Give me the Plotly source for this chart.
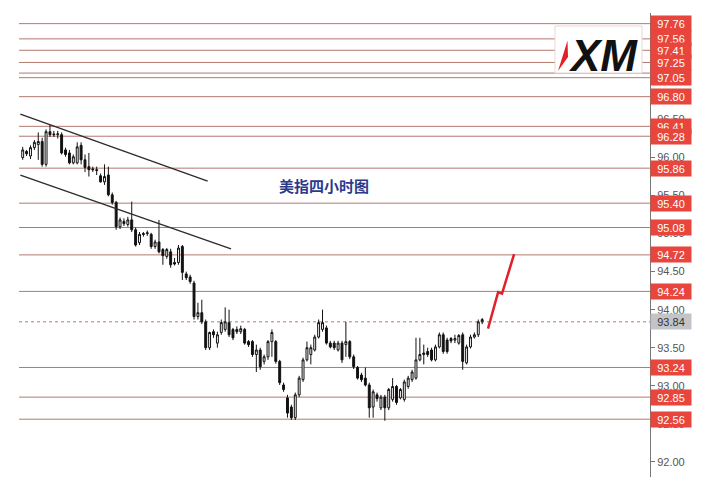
import plotly.graph_objects as go

# ---- candle data (USD index, 4h) ----
opens = [96.00,96.08,96.02,96.13,96.17,96.21,95.91,96.34,96.31,96.30,
         96.30,96.10,96.06,95.93,95.93,96.16,95.97,95.88,95.85,95.84,
         95.76,95.68,95.77,95.51,95.41,95.09,95.16,95.12,95.18,95.05,
         94.88,95.00,95.00,94.99,94.83,94.89,94.79,94.70,94.76,94.62,
         94.62,94.83,94.47,94.43,94.35,93.91,93.96,93.84,93.50,93.71,
         93.56,93.70,93.74,93.83,93.74,93.74,93.71,93.74,93.58,93.58,
         93.41,93.47,93.32,93.38,93.58,93.58,93.32,93.01,92.84,92.72,
         92.58,92.88,93.08,93.34,93.41,93.47,93.64,93.74,93.76,93.56,
         93.56,93.47,93.56,93.54,93.58,93.38,93.24,93.14,93.10,93.01,
         92.72,92.88,92.71,92.85,92.71,92.82,92.99,92.84,92.82,92.99,
         93.08,93.10,93.34,93.41,93.45,93.47,93.34,93.51,93.67,93.60,
         93.62,93.60,93.56,93.67,93.30,93.51,93.64,93.67,93.84]
highs = [96.14,96.10,96.16,96.23,96.33,96.26,96.37,96.43,96.35,96.35,
         96.33,96.13,96.10,96.04,96.20,96.20,96.04,96.06,95.88,95.88,
         95.79,95.91,95.88,95.54,95.43,95.21,95.20,95.22,95.42,95.08,
         95.02,95.02,95.04,95.01,94.92,95.18,94.81,94.81,94.80,94.68,
         94.85,94.85,94.50,94.46,94.38,94.09,94.13,93.87,93.71,93.74,
         93.71,93.87,94.03,94.00,93.76,93.78,93.79,93.76,93.60,93.60,
         93.54,93.50,93.41,93.60,93.74,93.60,93.34,93.04,92.88,92.75,
         92.91,93.13,93.37,93.58,93.54,93.67,93.87,94.00,93.79,93.59,
         93.59,93.59,93.59,93.84,93.60,93.41,93.26,93.17,93.24,93.04,
         92.95,92.91,92.88,92.88,92.97,93.10,93.01,92.97,93.08,93.13,
         93.21,93.63,93.63,93.54,93.50,93.50,93.54,93.70,93.70,93.63,
         93.64,93.67,93.68,93.70,93.54,93.67,93.70,93.87,93.89]
lows = [95.97,96.02,95.98,96.10,95.97,95.88,95.88,96.27,96.27,96.25,
        96.04,96.01,95.91,95.91,95.91,95.91,95.81,95.75,95.81,95.77,
        95.67,95.64,95.49,95.38,95.05,95.06,95.10,95.09,95.02,94.83,
        94.85,94.96,94.97,94.80,94.80,94.74,94.59,94.67,94.55,94.58,
        94.59,94.39,94.39,94.34,93.87,93.87,93.81,93.47,93.47,93.63,
        93.50,93.67,93.71,93.64,93.60,93.68,93.68,93.54,93.51,93.38,
        93.18,93.21,93.28,93.34,93.38,93.29,93.01,92.92,92.58,92.55,
        92.55,92.85,93.05,93.32,93.28,93.45,93.62,93.71,93.54,93.49,
        93.47,93.45,93.30,93.38,93.35,93.22,93.08,93.05,92.99,92.58,
        92.58,92.79,92.68,92.54,92.68,92.79,92.75,92.82,92.79,92.96,
        93.05,93.08,93.32,93.28,93.38,93.32,93.32,93.49,93.42,93.42,
        93.56,93.56,93.54,93.21,93.28,93.49,93.62,93.64,93.81]
closes = [96.10,96.05,96.13,96.20,96.21,95.91,96.34,96.30,96.30,96.31,
          96.06,96.04,95.93,96.01,96.14,95.97,95.87,95.84,95.84,95.83,
          95.68,95.75,95.51,95.41,95.09,95.18,95.13,95.18,95.05,94.85,
          94.99,94.99,95.01,94.83,94.89,94.76,94.71,94.79,94.59,94.60,
          94.81,94.49,94.42,94.37,93.91,93.96,93.84,93.50,93.70,93.67,
          93.67,93.83,93.84,93.67,93.63,93.71,93.75,93.56,93.54,93.41,
          93.47,93.25,93.38,93.58,93.70,93.32,93.04,92.95,92.64,92.58,
          92.88,93.10,93.34,93.50,93.50,93.64,93.83,93.83,93.56,93.51,
          93.50,93.56,93.34,93.58,93.38,93.25,93.10,93.08,93.01,92.71,
          92.92,92.83,92.85,92.71,92.95,92.99,92.78,92.95,93.05,93.10,
          93.18,93.34,93.41,93.43,93.41,93.34,93.51,93.67,93.45,93.45,
          93.59,93.62,93.66,93.32,93.51,93.64,93.67,93.84,93.87]
bars = list(range(len(opens)))

# ---- horizontal levels ----
levels = [97.76, 97.56, 97.41, 97.25, 97.05, 96.80, 96.41, 96.28, 95.86,
          95.40, 95.08, 94.72, 94.24, 93.24, 92.85, 92.56]
unlabeled_levels = [97.11]
current_price = 93.84

# ---- trend channel lines (bar index, price) ----
upper_x = [-0.6, 47.5]
upper_y = [96.57, 95.69]
lower_x = [-0.6, 53.5]
lower_y = [95.77, 94.80]

# ---- projected path (red) ----
proj_x = [119.5, 122.1, 123.1, 126.2]
proj_y = [93.75, 94.23, 94.21, 94.73]

tick_vals = [92.0, 92.5, 93.0, 93.5, 94.0, 94.5, 95.0, 95.5, 96.0, 96.5, 97.0, 97.5]

title_text = "美指四小时图"

LINE_COL = "#b4786f"
LABEL_RED = "#e8453c"

fig = go.Figure()
fig.add_trace(go.Candlestick(
    x=bars, open=opens, high=highs, low=lows, close=closes,
    increasing=dict(line=dict(color="#111111", width=1), fillcolor="white"),
    decreasing=dict(line=dict(color="#111111", width=1), fillcolor="#111111"),
    whiskerwidth=0, showlegend=False, hoverinfo="skip"))

for xs, ys in ((upper_x, upper_y), (lower_x, lower_y)):
    fig.add_trace(go.Scatter(x=xs, y=ys, mode="lines",
                             line=dict(color="#2b2b2b", width=1.3),
                             showlegend=False, hoverinfo="skip"))

fig.add_trace(go.Scatter(x=proj_x, y=proj_y, mode="lines",
                         line=dict(color="#e0202c", width=2.5),
                         showlegend=False, hoverinfo="skip"))

shapes = []
for lv in levels + unlabeled_levels:
    shapes.append(dict(type="line", xref="paper", x0=0, x1=1, yref="y", y0=lv, y1=lv,
                       line=dict(color=LINE_COL, width=1), layer="below"))
shapes.append(dict(type="line", xref="paper", x0=0, x1=1, yref="y",
                   y0=current_price, y1=current_price,
                   line=dict(color=LINE_COL, width=1, dash="dot"), layer="below"))

# page pixel -> paper coordinates (plot area spans x 19..650, y 13..477 in the page)
def px_x(p):
    return (p - 19) / 631.0

def px_y(p):
    return (477 - p) / 464.0

shapes.append(dict(type="rect", xref="paper", yref="paper",
                   x0=px_x(555), x1=px_x(642), y0=px_y(73), y1=px_y(26),
                   fillcolor="white", line=dict(color="#ead6d2", width=1), layer="below"))
shapes.append(dict(type="path", xref="paper", yref="paper",
                   path=f"M {px_x(558)} {px_y(71)} L {px_x(567.5)} {px_y(40.5)} L {px_x(568)} {px_y(57)} Z",
                   fillcolor="#e3202a", line=dict(width=0), layer="above"))

annotations = []
for lv in levels:
    annotations.append(dict(
        xref="paper", x=1, xanchor="left", yref="y", y=lv, yanchor="middle",
        text=f"{lv:.2f}", showarrow=False, bgcolor=LABEL_RED,
        font=dict(color="white", size=11, family="Liberation Sans"),
        width=38, height=13, borderpad=1))
annotations.append(dict(
    xref="paper", x=1, xanchor="left", yref="y", y=current_price, yanchor="middle",
    text=f"{current_price:.2f}", showarrow=False, bgcolor="#c3c4ca",
    font=dict(color="#333333", size=11, family="Liberation Sans"),
    width=38, height=13, borderpad=1))
annotations.append(dict(
    xref="paper", yref="paper", x=px_x(603), y=px_y(55), xanchor="center", yanchor="middle",
    text="<b><i>XM</i></b>", showarrow=False,
    font=dict(color="#111111", size=44, family="Liberation Sans")))
annotations.append(dict(
    xref="paper", yref="paper", x=px_x(324), y=px_y(186), xanchor="center", yanchor="middle",
    text=f"<b>{title_text}</b>", showarrow=False,
    font=dict(color="#2d3a8c", size=15, family="Noto Sans CJK SC")))

# the page body has an 8px default margin, so the figure is sized/margined to compensate
fig.update_layout(
    width=697, height=479,
    margin=dict(l=11, r=55, t=5, b=10),
    paper_bgcolor="white", plot_bgcolor="white",
    shapes=shapes, annotations=annotations,
    xaxis=dict(visible=False, range=[-0.95, 161.1], rangeslider=dict(visible=False),
               fixedrange=True),
    yaxis=dict(side="right", range=[91.8, 97.9], tickvals=tick_vals, tickformat=".2f",
               showgrid=False, zeroline=False, showline=True, linecolor="#777777",
               linewidth=1, ticks="outside", ticklen=4, tickcolor="#777777",
               tickfont=dict(size=11, color="#555555", family="Liberation Sans")),
)

fig.write_html("out.html")
